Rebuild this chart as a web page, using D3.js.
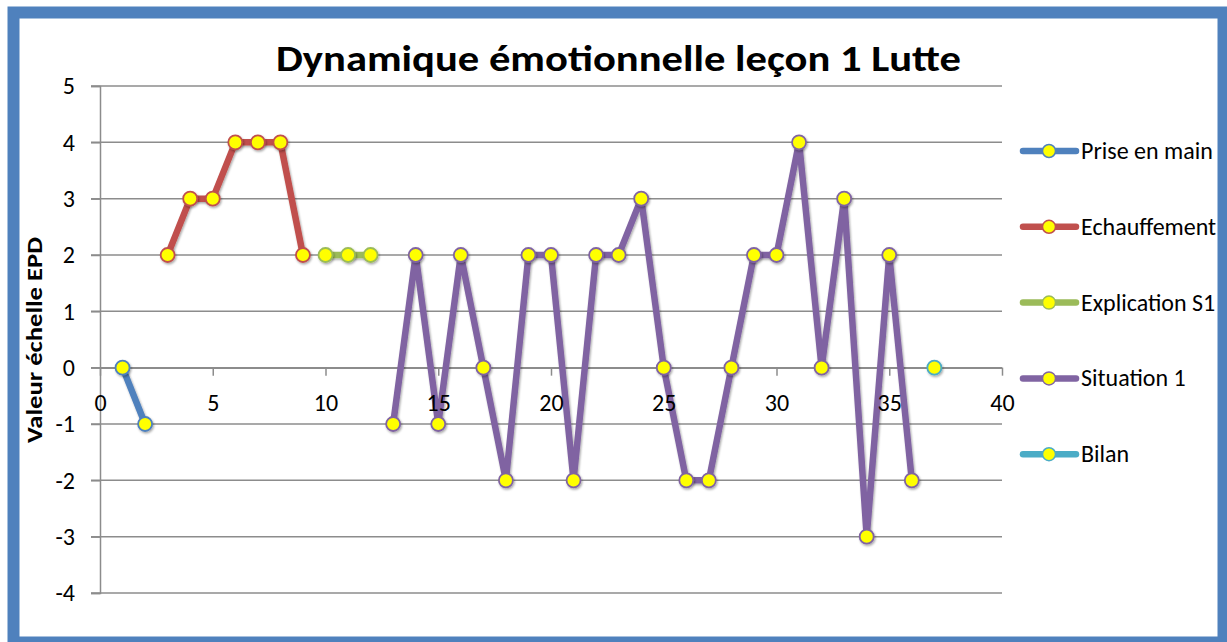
<!DOCTYPE html>
<html>
<head>
<meta charset="utf-8">
<script src="https://cdn.jsdelivr.net/npm/d3@7"></script>
<style>
  body { margin: 0; background: #fff; }
  text { font-family: Carlito, Calibri, "Liberation Sans", sans-serif; fill: #000; }
  .grid line { stroke: #8c8c8c; stroke-width: 1.5; }
</style>
</head>
<body>
<div id="chart"></div>
<script>
"use strict";

// series names and colours
var seriesNames = ["Prise en main", "Echauffement", "Explication S1", "Situation 1", "Bilan"];
var seriesColors = ["#4f81bd", "#c0504d", "#9bbb59", "#8064a2", "#4bacc6"];

// x / y values per series
var priseX = [1, 2];
var priseY = [0, -1];
var echaufX = [3, 4, 5, 6, 7, 8, 9];
var echaufY = [2, 3, 3, 4, 4, 4, 2];
var explicX = [10, 11, 12];
var explicY = [2, 2, 2];
var situX = [13, 14, 15, 16, 17, 18, 19, 20, 21, 22, 23, 24, 25, 26, 27, 28, 29, 30, 31, 32, 33, 34, 35, 36];
var situY = [-1, 2, -1, 2, 0, -2, 2, 2, -2, 2, 2, 3, 0, -2, -2, 0, 2, 2, 4, 0, 3, -3, 2, -2];
var bilanX = [37];
var bilanY = [0];

var xTicks = [0, 5, 10, 15, 20, 25, 30, 35, 40];
var yTicks = [-4, -3, -2, -1, 0, 1, 2, 3, 4, 5];

var allX = [priseX, echaufX, explicX, situX, bilanX];
var allY = [priseY, echaufY, explicY, situY, bilanY];

function styleAxis(g) {
    g.select(".domain").attr("stroke", "#8c8c8c").attr("stroke-width", 1.5);
    g.selectAll(".tick line").attr("stroke", "#8c8c8c").attr("stroke-width", 1.5);
    g.selectAll(".tick text").remove();
}

function labelsOnly(g) {
    g.select(".domain").remove();
    g.selectAll(".tick line").remove();
    g.selectAll(".tick text").attr("font-size", 24).attr("font-family", null).attr("fill", "#000");
}

function renderChart() {
    var W = 1227, H = 642;
    var svg = d3.select("#chart").append("svg")
        .attr("width", W)
        .attr("height", H);

    // drop shadow; user space units so flat lines don't vanish
    var defs = svg.append("defs");
    var f = defs.append("filter").attr("id", "shadow")
        .attr("filterUnits", "userSpaceOnUse")
        .attr("x", 0).attr("y", 0).attr("width", W).attr("height", H);
    f.append("feDropShadow").attr("dx", 1).attr("dy", 1.5).attr("stdDeviation", 1.2)
        .attr("flood-color", "#000").attr("flood-opacity", 0.35);

    // frame
    svg.append("rect")
        .attr("x", 13.5).attr("y", 12.5)
        .attr("width", 1210).attr("height", 630)
        .attr("fill", "#fff")
        .attr("stroke", "#4f81bd")
        .attr("stroke-width", 12);

    var x = d3.scaleLinear().domain([0, 40]).range([100, 1002]);
    var y = d3.scaleLinear().domain([-4, 5]).range([593, 86]);

    var yAx = d3.axisLeft(y).tickValues(yTicks).tickSize(9).tickPadding(16)
        .tickFormat(function (d) { return d3.format("d")(d).replace("−", "-"); });
    var xAx = d3.axisBottom(x).tickValues(xTicks).tickSize(8).tickSizeOuter(0).tickPadding(18);

    // horizontal gridlines
    svg.append("g").attr("class", "grid")
        .selectAll("line").data(yTicks).enter().append("line")
        .attr("x1", 91).attr("x2", x(40))
        .attr("y1", function (d) { return y(d); })
        .attr("y2", function (d) { return y(d); });

    // axis lines under the series
    svg.append("g")
        .attr("transform", "translate(" + x(0) + ",0)")
        .call(yAx).call(styleAxis);
    svg.append("g")
        .attr("transform", "translate(0," + y(0) + ")")
        .call(xAx).call(styleAxis);

    var line = d3.line()
        .x(function (d) { return x(d[0]); })
        .y(function (d) { return y(d[1]); });

    seriesNames.forEach(function (name, i) {
        var pts = allX[i].map(function (v, j) { return [v, allY[i][j]]; });
        var g = svg.append("g");
        if (pts.length > 1) {
            g.append("path")
                .datum(pts)
                .attr("d", line)
                .attr("fill", "none")
                .attr("stroke", seriesColors[i])
                .attr("stroke-width", 6.5)
                .attr("stroke-linejoin", "round")
                .attr("filter", "url(#shadow)");
        }
        g.selectAll("circle").data(pts).enter().append("circle")
            .attr("cx", function (d) { return x(d[0]); })
            .attr("cy", function (d) { return y(d[1]); })
            .attr("r", 7)
            .attr("fill", "#ffff00")
            .attr("stroke", seriesColors[i])
            .attr("stroke-width", 1.8)
            .attr("filter", "url(#shadow)");
    });

    // tick labels on top of the series, like the original
    svg.append("g")
        .attr("transform", "translate(" + x(0) + ",0)")
        .call(yAx).call(labelsOnly);
    svg.append("g")
        .attr("transform", "translate(0," + y(0) + ")")
        .call(xAx).call(labelsOnly);

    // legend
    var leg = svg.append("g");
    seriesNames.forEach(function (name, i) {
        var ly = 151 + i * 75.8;
        leg.append("line")
            .attr("x1", 1023).attr("x2", 1076)
            .attr("y1", ly).attr("y2", ly)
            .attr("stroke", seriesColors[i])
            .attr("stroke-width", 6.5)
            .attr("stroke-linecap", "round");
        leg.append("circle")
            .attr("cx", 1049).attr("cy", ly).attr("r", 6.5)
            .attr("fill", "#ffff00")
            .attr("stroke", seriesColors[i])
            .attr("stroke-width", 1.5);
        leg.append("text")
            .attr("x", 1081).attr("y", ly + 8)
            .attr("font-size", 24)
            .text(name);
    });

    // title
    svg.append("text")
        .attr("x", 276).attr("y", 71)
        .attr("font-size", 37)
        .attr("font-weight", "bold")
        .attr("textLength", 685)
        .attr("lengthAdjust", "spacingAndGlyphs")
        .text("Dynamique émotionnelle leçon 1 Lutte");

    // y label
    svg.append("text")
        .attr("transform", "translate(42,443) rotate(-90)")
        .attr("font-size", 23)
        .attr("font-weight", "bold")
        .attr("textLength", 206)
        .attr("lengthAdjust", "spacingAndGlyphs")
        .text("Valeur échelle EPD");
}

renderChart();
</script>
</body>
</html>
